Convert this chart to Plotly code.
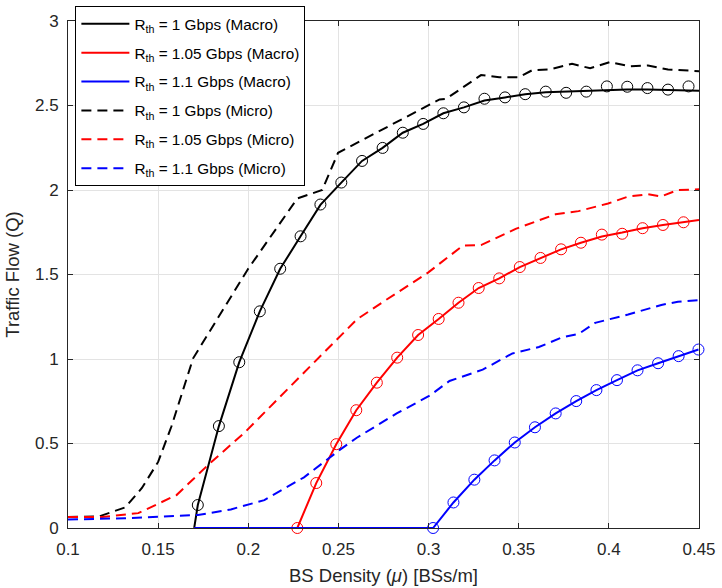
import plotly.graph_objects as go

# ---------------- data ----------------
x_ticks = [0.1, 0.15, 0.2, 0.25, 0.3, 0.35, 0.4, 0.45]
x_tick_labels = ["0.1", "0.15", "0.2", "0.25", "0.3", "0.35", "0.4", "0.45"]
y_ticks = [0, 0.5, 1, 1.5, 2, 2.5, 3]
y_tick_labels = ["0", "0.5", "1", "1.5", "2", "2.5", "3"]

legend_names = [
    "R<sub>th</sub> = 1 Gbps (Macro)",
    "R<sub>th</sub> = 1.05 Gbps (Macro)",
    "R<sub>th</sub> = 1.1 Gbps (Macro)",
    "R<sub>th</sub> = 1 Gbps (Micro)",
    "R<sub>th</sub> = 1.05 Gbps (Micro)",
    "R<sub>th</sub> = 1.1 Gbps (Micro)",
]

# Macro, Rth = 1 Gbps (curve and simulation markers)
macro1_line_x = [0.17, 0.172, 0.1837, 0.195, 0.2064, 0.2177, 0.229, 0.240, 0.2516, 0.2631,
                 0.2745, 0.2857, 0.297, 0.3082, 0.3196, 0.331, 0.3424, 0.3536, 0.365, 0.3763,
                 0.3875, 0.3989, 0.4102, 0.4214, 0.4328, 0.4442, 0.45]
macro1_line_y = [0.0, 0.136, 0.603, 0.981, 1.282, 1.534, 1.726, 1.912, 2.044, 2.172,
                 2.249, 2.339, 2.391, 2.454, 2.489, 2.53, 2.548, 2.567, 2.578, 2.582,
                 2.588, 2.592, 2.594, 2.594, 2.592, 2.59, 2.588]
macro1_mark_x = [0.172, 0.1837, 0.195, 0.2064, 0.2177, 0.229, 0.240, 0.2516, 0.2631, 0.2745,
                 0.2857, 0.297, 0.3082, 0.3196, 0.331, 0.3424, 0.3536, 0.365, 0.3763, 0.3875,
                 0.3989, 0.4102, 0.4214, 0.4328, 0.4442]
macro1_mark_y = [0.136, 0.603, 0.981, 1.282, 1.534, 1.726, 1.914, 2.044, 2.172, 2.249,
                 2.339, 2.391, 2.454, 2.489, 2.54, 2.548, 2.567, 2.582, 2.575, 2.582,
                 2.613, 2.611, 2.603, 2.594, 2.613]

# Macro, Rth = 1.05 Gbps
macro2_line_x = [0.17, 0.2272, 0.2377, 0.2488, 0.2599, 0.2713, 0.2826, 0.2942, 0.3056, 0.3166,
                 0.3278, 0.3392, 0.3506, 0.3621, 0.3735, 0.3845, 0.3961, 0.4074, 0.4187, 0.43,
                 0.4414, 0.45]
macro2_line_y = [0.0, 0.0, 0.266, 0.496, 0.697, 0.86, 1.008, 1.142, 1.237, 1.333,
                 1.42, 1.477, 1.544, 1.598, 1.649, 1.688, 1.725, 1.748, 1.774, 1.793,
                 1.809, 1.822]
macro2_mark_x = [0.2272, 0.2377, 0.2488, 0.2599, 0.2713, 0.2826, 0.2942, 0.3056, 0.3166, 0.3278,
                 0.3392, 0.3506, 0.3621, 0.3735, 0.3845, 0.3961, 0.4074, 0.4187, 0.43, 0.4414]
macro2_mark_y = [0.0, 0.266, 0.496, 0.697, 0.86, 1.008, 1.142, 1.237, 1.333, 1.42,
                 1.477, 1.544, 1.598, 1.649, 1.688, 1.736, 1.741, 1.774, 1.793, 1.809]

# Macro, Rth = 1.1 Gbps
macro3_line_x = [0.17, 0.3025, 0.3138, 0.3254, 0.3366, 0.3478, 0.359, 0.3705, 0.3819, 0.3931,
                 0.4045, 0.4159, 0.4273, 0.4387, 0.4497]
macro3_line_y = [0.0, 0.0, 0.151, 0.286, 0.4, 0.506, 0.596, 0.678, 0.751, 0.816,
                 0.875, 0.933, 0.975, 1.017, 1.056]
macro3_mark_x = [0.3025, 0.3138, 0.3254, 0.3366, 0.3478, 0.359, 0.3705, 0.3819, 0.3931,
                 0.4045, 0.4159, 0.4273, 0.4387, 0.4497]
macro3_mark_y = [0.0, 0.151, 0.286, 0.4, 0.506, 0.596, 0.678, 0.751, 0.816,
                 0.875, 0.933, 0.975, 1.017, 1.056]

# Micro, Rth = 1 Gbps
micro1_x = [0.1, 0.117, 0.1318, 0.141, 0.15, 0.1574, 0.1694, 0.1997, 0.2272, 0.241,
            0.2498, 0.3061, 0.3098, 0.3291, 0.3392, 0.3502, 0.3575, 0.3676, 0.3796, 0.3896,
            0.4007, 0.4117, 0.4217, 0.4328, 0.45]
micro1_y = [0.065, 0.068, 0.122, 0.237, 0.391, 0.602, 1.004, 1.53, 1.95, 2.0,
            2.22, 2.536, 2.54, 2.68, 2.667, 2.667, 2.709, 2.714, 2.747, 2.72,
            2.757, 2.732, 2.737, 2.713, 2.703]

# Micro, Rth = 1.05 Gbps
micro2_x = [0.1, 0.1189, 0.139, 0.1602, 0.1776, 0.1978, 0.2235, 0.2492, 0.2602, 0.2749,
            0.2997, 0.319, 0.3291, 0.3483, 0.3704, 0.3832, 0.3996, 0.4107, 0.4217, 0.4291,
            0.4383, 0.45]
micro2_y = [0.065, 0.065, 0.088, 0.195, 0.372, 0.563, 0.84, 1.12, 1.234, 1.339,
            1.511, 1.671, 1.674, 1.77, 1.856, 1.875, 1.92, 1.961, 1.975, 1.962,
            2.0, 2.004]

# Micro, Rth = 1.1 Gbps
micro3_x = [0.1, 0.1318, 0.1721, 0.1903, 0.2089, 0.2309, 0.2511, 0.2602, 0.2823, 0.3006,
            0.3116, 0.33, 0.3465, 0.3612, 0.3741, 0.3832, 0.3924, 0.4107, 0.4291, 0.4383, 0.45]
micro3_y = [0.05, 0.058, 0.077, 0.11, 0.165, 0.3, 0.465, 0.534, 0.678, 0.783,
            0.87, 0.937, 1.033, 1.071, 1.128, 1.148, 1.214, 1.263, 1.32, 1.339, 1.349]

# ---------------- figure ----------------
FONT = "Liberation Sans, Arial, Helvetica, sans-serif"
AX = "#262626"
colors = ["#000000", "#ff0000", "#0000ff"]

fig = go.Figure()

macro_lines = [(macro1_line_x, macro1_line_y), (macro2_line_x, macro2_line_y), (macro3_line_x, macro3_line_y)]
macro_marks = [(macro1_mark_x, macro1_mark_y), (macro2_mark_x, macro2_mark_y), (macro3_mark_x, macro3_mark_y)]
micro = [(micro1_x, micro1_y), (micro2_x, micro2_y), (micro3_x, micro3_y)]

for i in range(3):
    lx, ly = macro_lines[i]
    fig.add_trace(go.Scatter(
        x=lx, y=ly, mode="lines", name=legend_names[i], legendgroup=f"g{i}",
        line=dict(color=colors[i], width=2), cliponaxis=False))
    mx, my = macro_marks[i]
    fig.add_trace(go.Scatter(
        x=mx, y=my, mode="markers", showlegend=False, legendgroup=f"g{i}",
        marker=dict(symbol="circle-open", size=11, color=colors[i], line=dict(width=1)),
        cliponaxis=False))

for i in range(3):
    dx, dy = micro[i]
    fig.add_trace(go.Scatter(
        x=dx, y=dy, mode="lines", name=legend_names[i + 3], legendgroup=f"g{i+3}",
        line=dict(color=colors[i], width=2, dash="10px,6px"), cliponaxis=False))

axis_common = dict(
    showline=True, linecolor=AX, linewidth=1, mirror="ticks",
    ticks="inside", ticklen=5, tickcolor=AX, tickwidth=1,
    showgrid=True, gridcolor="#e3e3e3", gridwidth=1, zeroline=False,
    tickfont=dict(family=FONT, size=17, color=AX),
    ticklabeloverflow="allow",
)

fig.update_xaxes(range=[0.1, 0.45], tickvals=x_ticks, ticktext=x_tick_labels,
                 ticklabelstandoff=6,
                 title=dict(text="BS Density (<i>μ</i>) [BSs/m]", font=dict(family=FONT, size=18.5, color=AX), standoff=10),
                 **axis_common)
fig.update_yaxes(range=[0, 3], tickvals=y_ticks, ticktext=y_tick_labels,
                 ticklabelstandoff=5,
                 title=dict(text="Traffic Flow (Q)", font=dict(family=FONT, size=18.5, color=AX), standoff=10),
                 **axis_common)

fig.update_layout(
    width=722, height=588,
    margin=dict(l=68, r=18, t=6, b=60),
    paper_bgcolor="white", plot_bgcolor="white",
    font=dict(family=FONT, size=15.3, color="#000000"),
    legend=dict(
        x=0.0117, y=1.029, xanchor="left", yanchor="top",
        bgcolor="white", bordercolor="#000000", borderwidth=1,
        font=dict(family=FONT, size=15.3, color="#000000"),
        traceorder="grouped", tracegroupgap=6, itemwidth=48,
    ),
    showlegend=True,
)

fig.write_html("out.html", post_script="document.body.style.margin='0';",
               config={"displayModeBar": False})
